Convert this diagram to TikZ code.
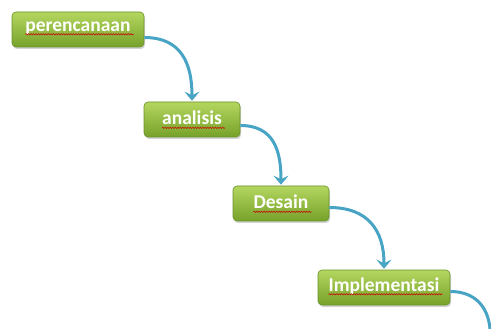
\documentclass[tikz,border=0pt]{standalone}
\usepackage{fontspec}
\setmainfont{Carlito}
\usetikzlibrary{arrows.meta,positioning,shadows,decorations.pathmorphing}
\definecolor{boxtop}{RGB}{180,214,96}
\definecolor{boxbot}{RGB}{118,162,42}
\definecolor{boxline}{RGB}{104,146,40}
\definecolor{flow}{RGB}{72,164,196}
\begin{document}
\begin{tikzpicture}[
  x=1pt, y=-1pt,
  phase/.style={rectangle, draw=boxline, line width=0.6pt, top color=boxtop,
                bottom color=boxbot, minimum height=35pt, rounded corners=4pt,
                drop shadow={opacity=0.35, shadow xshift=1pt, shadow yshift=-2pt}},
  word/.style={inner sep=0pt, text=white, font=\bfseries\fontsize{19.5}{20}\selectfont},
  squiggle/.style={draw=red!80!black, line width=0.5pt,
                   decorate, decoration={snake, amplitude=0.7pt, segment length=2.5pt}},
  flowline/.style={draw=flow, line width=3pt,
                   -{Stealth[length=9pt, width=15pt, inset=3.5pt]}}
]
  \useasboundingbox (0,0) rectangle (491,329);

  % Phase boxes
  \node[phase, minimum width=132pt] (p1) at (78,29.5)   {};
  \node[phase, minimum width=96pt]  (p2) at (192,119.5) {};
  \node[phase, minimum width=96pt]  (p3) at (281,203.5) {};
  \node[phase, minimum width=132pt] (p4) at (384,287.5) {};

  % Labels
  \node[word] (t1) at (78,28)  {perencanaan};
  \node[word] (t2) at (192,118) {analisis};
  \node[word] (t3) at (281,202) {Desain};
  \node[word] (t4) at (384,286) {Implementasi};
  \foreach \t in {t1,t2,t3,t4}
    \draw[squiggle] ([yshift=-3pt]\t.base west) -- ([xshift=3pt,yshift=-3pt]\t.base east);

  % Flow arrows
  \coordinate (out) at (490,329);
  \draw[flowline] ([yshift=-8pt]p1.east) to[out=0, in=90, looseness=1.2] ([yshift=1pt]p2.north);
  \draw[flowline] ([yshift=-6pt]p2.east) to[out=0, in=90, looseness=1.2] ([yshift=1pt]p3.north);
  \draw[flowline] ([yshift=-4pt]p3.east) to[out=0, in=90, looseness=1.2] ([yshift=1pt]p4.north);
  \draw[draw=flow, line width=3pt] ([yshift=-4pt]p4.east) to[out=0, in=95, looseness=1.1] (out);
\end{tikzpicture}
\end{document}
